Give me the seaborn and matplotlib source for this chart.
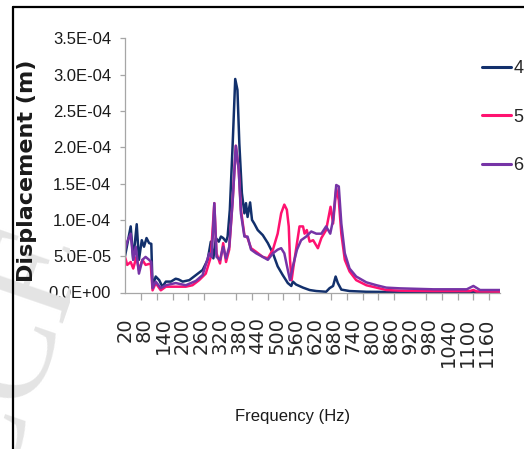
import matplotlib
matplotlib.use('Agg')
import matplotlib.pyplot as plt
import seaborn as sns
import pandas as pd
from matplotlib import font_manager
from matplotlib.lines import Line2D
from matplotlib.patches import Rectangle

# -------------------------------
# DATA (displacement in 1e-5 m)
# -------------------------------
freq_4 = [20, 38, 46, 57, 64, 73, 80, 88, 96, 103, 107, 117, 128, 138, 149, 165, 180, 189, 202, 223,
          244, 265, 281, 291, 299, 307, 316, 323, 330, 339, 344, 351, 360, 368, 375, 381, 389, 397, 402, 407,
          415, 421, 428, 439, 455, 471, 487, 502, 518, 534, 545, 550, 560, 582, 603, 624, 655, 666, 677, 685,
          692, 703, 729, 782, 888, 993, 1099, 1204]
disp_4 = [5.0, 9.1, 4.5, 9.4, 4.5, 7.2, 6.3, 7.5, 6.8, 6.7, 0.8, 2.2, 1.7, 0.8, 1.5, 1.5, 1.9, 1.8, 1.5, 1.7,
          2.4, 3.1, 4.5, 7.0, 4.7, 7.5, 7.0, 7.7, 7.5, 7.0, 7.7, 11.4, 20.5, 29.4, 27.9, 20.5, 13.7, 10.9, 12.3, 10.4,
          12.4, 10.0, 9.5, 8.6, 7.9, 6.8, 5.4, 3.6, 2.4, 1.3, 0.9, 1.5, 1.1, 0.67, 0.34, 0.2, 0.1, 0.6, 0.9, 2.2,
          1.3, 0.4, 0.2, 0.1, 0.06, 0.05, 0.05, 0.05]

freq_5 = [20, 27, 38, 46, 56, 64, 75, 85, 101, 107, 117, 133, 149, 180, 212, 233, 254, 275, 291, 302,
          309, 320, 330, 339, 349, 360, 370, 379, 386, 397, 407, 418, 434, 455, 471, 487, 502, 513, 523, 531,
          537, 541, 546, 552, 563, 571, 582, 587, 594, 603, 614, 629, 640, 655, 669, 677, 687, 695, 703, 714,
          729, 750, 782, 814, 845, 888, 993, 1109, 1120, 1130, 1204]
disp_5 = [4.9, 3.8, 4.2, 3.3, 4.9, 3.1, 4.5, 3.8, 4.0, 0.3, 1.3, 0.3, 0.8, 0.8, 0.8, 1.0, 1.7, 2.6, 4.9, 12.3,
          5.4, 4.0, 6.8, 4.2, 5.9, 12.7, 20.2, 16.9, 11.4, 7.9, 7.5, 6.1, 5.6, 4.9, 4.7, 5.9, 8.1, 10.9, 12.1, 11.4,
          9.1, 4.5, 1.7, 3.6, 6.8, 9.1, 9.1, 8.1, 8.6, 7.0, 7.2, 6.1, 7.5, 8.6, 11.8, 9.5, 14.3, 12.7, 8.1, 4.5,
          2.9, 1.7, 1.0, 0.67, 0.34, 0.25, 0.2, 0.2, 0.35, 0.15, 0.12]

freq_6 = [20, 27, 38, 46, 54, 64, 75, 85, 96, 103, 107, 117, 133, 149, 180, 212, 244, 265, 286, 294,
          302, 309, 320, 330, 339, 349, 360, 370, 379, 386, 397, 407, 418, 434, 455, 471, 487, 502, 513, 523,
          534, 541, 550, 563, 576, 592, 608, 624, 640, 655, 668, 677, 687, 695, 703, 714, 729, 750, 782, 814,
          845, 888, 993, 1099, 1120, 1141, 1204]
disp_6 = [5.9, 7.0, 8.1, 4.5, 6.3, 2.6, 4.5, 4.9, 4.5, 4.2, 0.6, 1.5, 0.6, 1.0, 1.3, 1.0, 1.6, 2.4, 5.4, 4.9,
          12.3, 4.9, 4.5, 6.3, 4.7, 6.3, 12.7, 20.2, 16.9, 10.9, 7.7, 7.7, 5.9, 5.4, 4.9, 4.5, 5.4, 5.9, 6.1, 5.4,
          3.1, 1.7, 3.6, 5.9, 7.2, 7.7, 8.4, 8.1, 8.1, 9.1, 8.1, 10.0, 14.8, 14.6, 9.5, 5.4, 3.3, 2.2, 1.4, 1.0,
          0.67, 0.57, 0.44, 0.44, 0.9, 0.34, 0.34]

series_names = ['4', '5', '6']
series_colors = ['#12306C', '#FF1270', '#7634A6']

label_freqs = list(range(20, 1161, 60))
tick_freqs = list(range(20, 1171, 50))
y_ticks = [0, 5, 10, 15, 20, 25, 30, 35]

# -------------------------------
# FONTS
# -------------------------------
sns.set_theme(style='white')
names = {f.name for f in font_manager.fontManager.ttflist}
if 'Liberation Sans Narrow' in names:
    NARROW, ysize, lsize, tsize = 'Liberation Sans Narrow', 14.5, 15, 14
else:
    NARROW, ysize, lsize, tsize = 'Liberation Sans', 12, 13, 12
plt.rcParams['font.family'] = ['DejaVu Sans']

df = pd.concat([
    pd.DataFrame({'freq': f, 'disp': d, 'series': s})
    for f, d, s in zip([freq_4, freq_5, freq_6], [disp_4, disp_5, disp_6], series_names)
])

fig = plt.figure(figsize=(5.24, 4.49), dpi=100)
ax = fig.add_axes([125 / 524, 1 - 292.5 / 449, 375 / 524, 254.2 / 449])

sns.lineplot(data=df, x='freq', y='disp', hue='series', palette=series_colors,
             hue_order=series_names, sort=False, estimator=None, linewidth=1.8, ax=ax)

ax.set_xlim(20, 1204)
ax.set_ylim(0, 35)
ax.set_xlabel('')
ax.set_ylabel('')

# axes / ticks
for side in ['top', 'right']:
    ax.spines[side].set_visible(False)
for side in ['left', 'bottom']:
    ax.spines[side].set_color('#A6A6A6')
    ax.spines[side].set_linewidth(0.9)

ax.set_xticks(label_freqs)
ax.set_xticklabels([str(v) for v in label_freqs], rotation=90, fontsize=14, family='DejaVu Sans')
ax.set_xticks(tick_freqs, minor=True)
ax.tick_params(axis='x', which='major', length=0, pad=18)
ax.tick_params(axis='x', which='minor', length=5, width=0.9, color='#A6A6A6', direction='out', bottom=True)

ax.set_yticks(y_ticks)
ax.set_yticklabels(['%.1E' % (v * 1e-5) for v in y_ticks], fontsize=ysize, family=NARROW, color='#1a1a1a')
ax.tick_params(axis='y', length=3.5, width=0.9, color='#A6A6A6', direction='out', left=True, pad=6.5)

# titles
fig.text(27 / 524, 1 - 171 / 449, 'Displacement (m)', rotation=90, ha='center', va='center',
         fontsize=16, fontweight='bold', family='DejaVu Sans', color='#1a1a1a')
fig.text(293 / 524, 1 - 416 / 449, 'Frequency (Hz)', ha='center', va='center',
         fontsize=tsize, family=NARROW, color='#1a1a1a')

# legend
handles, labels = ax.get_legend_handles_labels()
leg = ax.legend(handles, labels, loc='upper left', bbox_to_anchor=(482 / 524, 1 - 60 / 449),
                bbox_transform=fig.transFigure, frameon=False, borderpad=0, borderaxespad=0,
                handlelength=1.6, handletextpad=0.15, labelspacing=1.75,
                prop={'family': NARROW, 'size': lsize})
for line in leg.get_lines():
    line.set_linewidth(2.2)

# chart border (top and left edges visible)
fig.add_artist(Line2D([13 / 524, 13 / 524], [0, 1 - 7 / 449], transform=fig.transFigure,
                      color='black', linewidth=1.6))
fig.add_artist(Line2D([13 / 524, 1], [1 - 7 / 449, 1 - 7 / 449], transform=fig.transFigure,
                      color='black', linewidth=1.6))

# faint watermark in the lower-left corner
wm = fig.text(-0.12, -0.30, 'ACCEPTED', rotation=71, rotation_mode='anchor', ha='left', va='center',
              fontsize=100, family='Liberation Serif', color='#E4E4E4', zorder=0)
wm.set_clip_path(Rectangle((0, 0), 70 / 524, (449 - 228) / 449, transform=fig.transFigure))

plt.savefig('out.png', dpi=100)
plt.close()
